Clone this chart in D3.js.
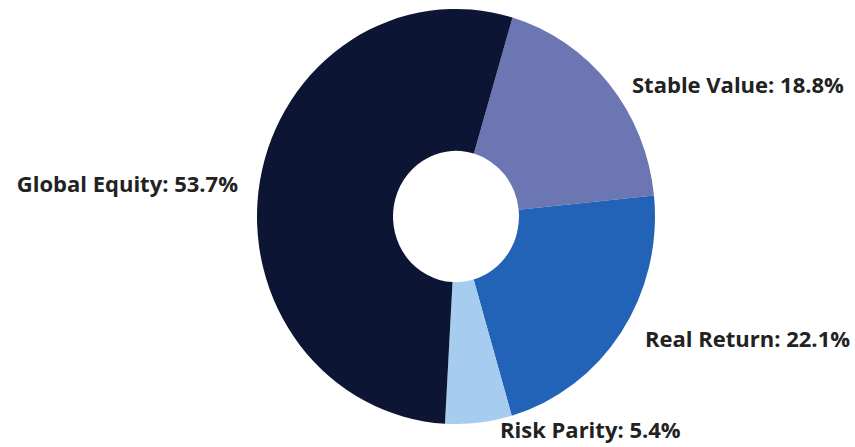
<!DOCTYPE html>
<html>
<head>
<meta charset="utf-8">
<script src="https://cdn.jsdelivr.net/npm/d3@7"></script>
<style>
  html, body { margin: 0; padding: 0; background: #ffffff; }
  svg { display: block; }
</style>
</head>
<body>
<svg id="chart" width="855" height="447"></svg>
<script>
// Asset allocation, clockwise from the top-right wedge
const categories = ["Stable Value", "Real Return", "Risk Parity", "Global Equity"];
const values = [18.8, 22.1, 5.4, 53.7];
const colors = ["#6b76b2", "#2262b7", "#a6cdf0", "#0c1533"];

// Where each label sits (text start x / baseline y, anchor)
const labelLayout = [
  { x: 632, y: 93, anchor: "start" },
  { x: 645, y: 347, anchor: "start" },
  { x: 500, y: 438, anchor: "start" },
  { x: 238, y: 192, anchor: "end" }
];

const svg = d3.select("#chart");
const cx = 456, cy = 216.5;
const outerR = 199, innerR = 63;
const yStretch = 1.043;

const pie = d3.pie()
  .sort(null)
  .value(d => d)
  .startAngle(16.5 * Math.PI / 180)
  .endAngle(16.5 * Math.PI / 180 + 2 * Math.PI);

const arc = d3.arc().innerRadius(innerR).outerRadius(outerR);

const ring = svg.append("g")
  .attr("transform", `translate(${cx},${cy}) scale(1,${yStretch})`);

ring.selectAll("path")
  .data(pie(values))
  .join("path")
  .attr("d", arc)
  .attr("fill", (d, i) => colors[i]);

svg.append("g")
  .selectAll("text")
  .data(categories)
  .join("text")
  .attr("x", (d, i) => labelLayout[i].x)
  .attr("y", (d, i) => labelLayout[i].y)
  .attr("text-anchor", (d, i) => labelLayout[i].anchor)
  .attr("font-family", "'Open Sans', Lato, sans-serif")
  .attr("font-weight", "bold")
  .attr("font-size", 22)
  .attr("fill", "#222222")
  .text((d, i) => `${d}: ${values[i].toFixed(1)}%`);
</script>
</body>
</html>
